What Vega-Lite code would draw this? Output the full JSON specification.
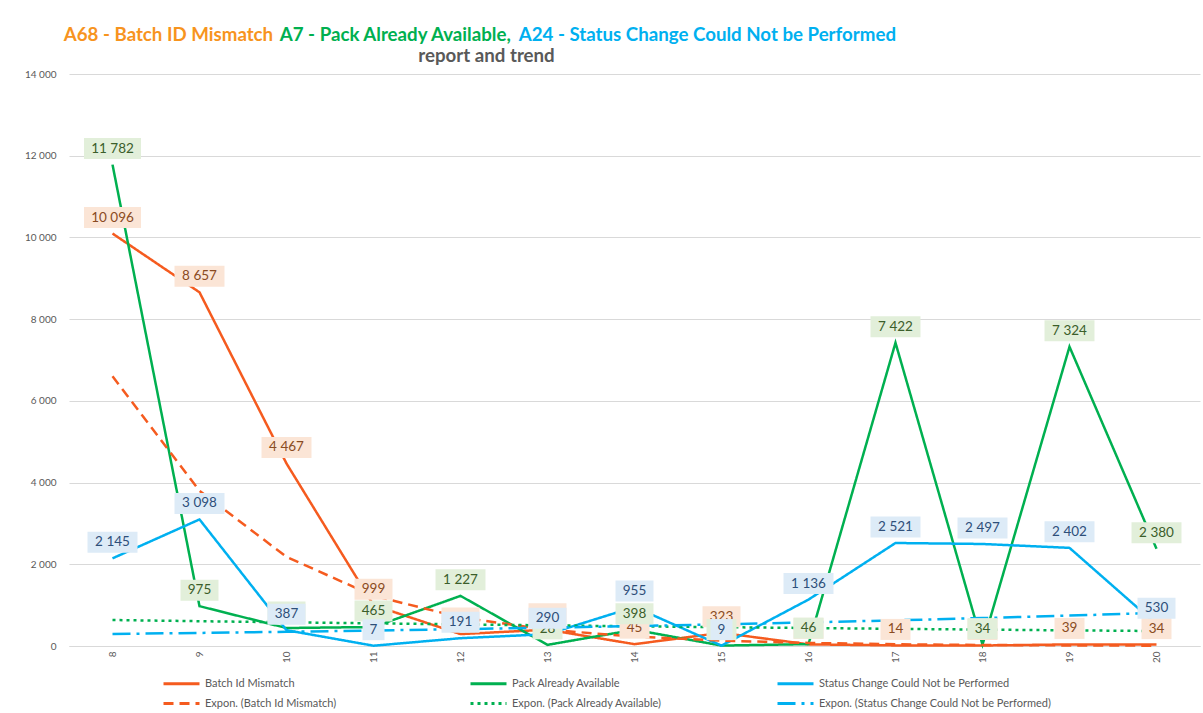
{
  "$schema": "https://vega.github.io/schema/vega-lite/v6.json",
  "padding": {"left": 24, "top": 26, "right": 5, "bottom": 0},
  "background": "white",
  "config": {
    "locale": {"number": {"decimal": ",", "thousands": " ", "grouping": [3], "currency": ["", ""]}},
    "font": "Lato",
    "view": {"stroke": null},
    "title": {"fontSize": 18.7, "fontWeight": "bold", "font": "Lato"},
    "legend": {
      "orient": "none", "legendX": 93, "legendY": 625, "direction": "horizontal", "columns": 3,
      "symbolType": "M-1,0H2.6", "symbolSize": 400, "symbolStrokeWidth": 3,
      "labelFontSize": 11, "labelColor": "#595959", "labelFont": "Lato",
      "columnPadding": 27, "rowPadding": 2, "gridAlign": "all", "labelLimit": 400, "labelOffset": 20
    }
  },
  "datasets": {
    "pts": [
      {"week": 8, "series": "Batch Id Mismatch", "value": 10096},
      {"week": 9, "series": "Batch Id Mismatch", "value": 8657},
      {"week": 10, "series": "Batch Id Mismatch", "value": 4467},
      {"week": 11, "series": "Batch Id Mismatch", "value": 999},
      {"week": 12, "series": "Batch Id Mismatch", "value": 291},
      {"week": 13, "series": "Batch Id Mismatch", "value": 400},
      {"week": 14, "series": "Batch Id Mismatch", "value": 45},
      {"week": 15, "series": "Batch Id Mismatch", "value": 323},
      {"week": 16, "series": "Batch Id Mismatch", "value": 40},
      {"week": 17, "series": "Batch Id Mismatch", "value": 14},
      {"week": 18, "series": "Batch Id Mismatch", "value": 12},
      {"week": 19, "series": "Batch Id Mismatch", "value": 39},
      {"week": 20, "series": "Batch Id Mismatch", "value": 34},
      {"week": 8, "series": "Pack Already Available", "value": 11782},
      {"week": 9, "series": "Pack Already Available", "value": 975},
      {"week": 10, "series": "Pack Already Available", "value": 440},
      {"week": 11, "series": "Pack Already Available", "value": 465},
      {"week": 12, "series": "Pack Already Available", "value": 1227},
      {"week": 13, "series": "Pack Already Available", "value": 28},
      {"week": 14, "series": "Pack Already Available", "value": 398},
      {"week": 15, "series": "Pack Already Available", "value": 10},
      {"week": 16, "series": "Pack Already Available", "value": 46},
      {"week": 17, "series": "Pack Already Available", "value": 7422},
      {"week": 18, "series": "Pack Already Available", "value": 34},
      {"week": 19, "series": "Pack Already Available", "value": 7324},
      {"week": 20, "series": "Pack Already Available", "value": 2380},
      {"week": 8, "series": "Status Change Could Not be Performed", "value": 2145},
      {"week": 9, "series": "Status Change Could Not be Performed", "value": 3098},
      {"week": 10, "series": "Status Change Could Not be Performed", "value": 387},
      {"week": 11, "series": "Status Change Could Not be Performed", "value": 7},
      {"week": 12, "series": "Status Change Could Not be Performed", "value": 191},
      {"week": 13, "series": "Status Change Could Not be Performed", "value": 290},
      {"week": 14, "series": "Status Change Could Not be Performed", "value": 955},
      {"week": 15, "series": "Status Change Could Not be Performed", "value": 9},
      {"week": 16, "series": "Status Change Could Not be Performed", "value": 1136},
      {"week": 17, "series": "Status Change Could Not be Performed", "value": 2521},
      {"week": 18, "series": "Status Change Could Not be Performed", "value": 2497},
      {"week": 19, "series": "Status Change Could Not be Performed", "value": 2402},
      {"week": 20, "series": "Status Change Could Not be Performed", "value": 530},
      {"week": 8, "series": "Expon. (Batch Id Mismatch)", "value": 6600},
      {"week": 9, "series": "Expon. (Batch Id Mismatch)", "value": 3800},
      {"week": 10, "series": "Expon. (Batch Id Mismatch)", "value": 2180},
      {"week": 11, "series": "Expon. (Batch Id Mismatch)", "value": 1230},
      {"week": 12, "series": "Expon. (Batch Id Mismatch)", "value": 700},
      {"week": 13, "series": "Expon. (Batch Id Mismatch)", "value": 400},
      {"week": 14, "series": "Expon. (Batch Id Mismatch)", "value": 230},
      {"week": 15, "series": "Expon. (Batch Id Mismatch)", "value": 130},
      {"week": 16, "series": "Expon. (Batch Id Mismatch)", "value": 75},
      {"week": 17, "series": "Expon. (Batch Id Mismatch)", "value": 43},
      {"week": 18, "series": "Expon. (Batch Id Mismatch)", "value": 25},
      {"week": 19, "series": "Expon. (Batch Id Mismatch)", "value": 14},
      {"week": 20, "series": "Expon. (Batch Id Mismatch)", "value": 8},
      {"week": 8, "series": "Expon. (Pack Already Available)", "value": 636},
      {"week": 9, "series": "Expon. (Pack Already Available)", "value": 607},
      {"week": 10, "series": "Expon. (Pack Already Available)", "value": 580},
      {"week": 11, "series": "Expon. (Pack Already Available)", "value": 554},
      {"week": 12, "series": "Expon. (Pack Already Available)", "value": 529},
      {"week": 13, "series": "Expon. (Pack Already Available)", "value": 505},
      {"week": 14, "series": "Expon. (Pack Already Available)", "value": 482},
      {"week": 15, "series": "Expon. (Pack Already Available)", "value": 461},
      {"week": 16, "series": "Expon. (Pack Already Available)", "value": 440},
      {"week": 17, "series": "Expon. (Pack Already Available)", "value": 420},
      {"week": 18, "series": "Expon. (Pack Already Available)", "value": 401},
      {"week": 19, "series": "Expon. (Pack Already Available)", "value": 383},
      {"week": 20, "series": "Expon. (Pack Already Available)", "value": 366},
      {"week": 8, "series": "Expon. (Status Change Could Not be Performed)", "value": 294},
      {"week": 9, "series": "Expon. (Status Change Could Not be Performed)", "value": 320},
      {"week": 10, "series": "Expon. (Status Change Could Not be Performed)", "value": 348},
      {"week": 11, "series": "Expon. (Status Change Could Not be Performed)", "value": 379},
      {"week": 12, "series": "Expon. (Status Change Could Not be Performed)", "value": 412},
      {"week": 13, "series": "Expon. (Status Change Could Not be Performed)", "value": 448},
      {"week": 14, "series": "Expon. (Status Change Could Not be Performed)", "value": 488},
      {"week": 15, "series": "Expon. (Status Change Could Not be Performed)", "value": 531},
      {"week": 16, "series": "Expon. (Status Change Could Not be Performed)", "value": 578},
      {"week": 17, "series": "Expon. (Status Change Could Not be Performed)", "value": 628},
      {"week": 18, "series": "Expon. (Status Change Could Not be Performed)", "value": 684},
      {"week": 19, "series": "Expon. (Status Change Could Not be Performed)", "value": 744},
      {"week": 20, "series": "Expon. (Status Change Could Not be Performed)", "value": 809}
    ]
  },
  "spacing": -4,
  "vconcat": [
    {
      "spacing": 5,
      "hconcat": [
        {"data": {"values": [{"a": 1}]}, "mark": {"type": "point", "opacity": 0}, "width": 1, "height": 1,
         "title": {"text": "A68 - Batch ID Mismatch", "color": "#F7941E", "anchor": "start", "dx": -3, "offset": 0}},
        {"data": {"values": [{"a": 1}]}, "mark": {"type": "point", "opacity": 0}, "width": 1, "height": 1,
         "title": {"text": "A7 - Pack Already Available,", "color": "#00B050", "anchor": "start", "offset": 0}},
        {"data": {"values": [{"a": 1}]}, "mark": {"type": "point", "opacity": 0}, "width": 1, "height": 1,
         "title": {"text": "A24 - Status Change Could Not be Performed", "color": "#00B0F0", "anchor": "start", "offset": 0}}
      ]
    },
    {
      "width": 1131,
      "height": 572,
      "data": {"name": "pts"},
      "title": {"text": "report and trend", "color": "#595959", "anchor": "middle", "dx": -148, "offset": 3},
      "encoding": {
        "x": {"field": "week", "type": "ordinal", "scale": {"type": "point", "padding": 0.5},
              "axis": {"title": null, "labelAngle": -90, "labelColor": "#595959", "labelFontSize": 10, "domainColor": "#D9D9D9", "ticks": false, "grid": false, "labelPadding": 5}},
        "y": {"field": "value", "type": "quantitative", "scale": {"domain": [0, 14000], "nice": false},
              "axis": {"title": null, "values": [0, 2000, 4000, 6000, 8000, 10000, 12000, 14000], "format": ",d", "domain": false, "ticks": false, "gridColor": "#D9D9D9", "labelColor": "#595959", "labelFontSize": 10, "labelPadding": 13}}
      },
      "layer": [
        {
          "mark": {"type": "line", "strokeWidth": 2.5},
          "encoding": {
            "color": {"field": "series", "type": "nominal",
              "scale": {"domain": ["Batch Id Mismatch", "Pack Already Available", "Status Change Could Not be Performed", "Expon. (Batch Id Mismatch)", "Expon. (Pack Already Available)", "Expon. (Status Change Could Not be Performed)"],
                        "range": ["#F55B1F", "#00B050", "#00B0F0", "#F55B1F", "#00B050", "#00B0F0"]},
              "legend": {"title": null}},
            "strokeDash": {"field": "series", "type": "nominal",
              "scale": {"domain": ["Batch Id Mismatch", "Pack Already Available", "Status Change Could Not be Performed", "Expon. (Batch Id Mismatch)", "Expon. (Pack Already Available)", "Expon. (Status Change Could Not be Performed)"],
                        "range": [[1, 0], [1, 0], [1, 0], [10, 6], [3, 4], [18, 6, 3, 6]]},
              "legend": {"title": null}}
          }
        },
        {"transform": [{"filter": "datum.series === 'Batch Id Mismatch' && datum.value >= 10 && datum.value < 100"}],
         "mark": {"type": "point", "shape": "M-0.5,-0.35H0.5V0.35H-0.5Z", "size": 3600, "filled": true, "opacity": 1, "color": "#FBE5D6", "strokeWidth": 0, "yOffset": -16}},
        {"transform": [{"filter": "datum.series === 'Batch Id Mismatch' && datum.value >= 100 && datum.value < 1000"}],
         "mark": {"type": "point", "shape": "M-0.633,-0.35H0.633V0.35H-0.633Z", "size": 3600, "filled": true, "opacity": 1, "color": "#FBE5D6", "strokeWidth": 0, "yOffset": -16}},
        {"transform": [{"filter": "datum.series === 'Batch Id Mismatch' && datum.value >= 1000 && datum.value < 10000"}],
         "mark": {"type": "point", "shape": "M-0.833,-0.35H0.833V0.35H-0.833Z", "size": 3600, "filled": true, "opacity": 1, "color": "#FBE5D6", "strokeWidth": 0, "yOffset": -16}},
        {"transform": [{"filter": "datum.series === 'Batch Id Mismatch' && datum.value >= 10000"}],
         "mark": {"type": "point", "shape": "M-0.95,-0.35H0.95V0.35H-0.95Z", "size": 3600, "filled": true, "opacity": 1, "color": "#FBE5D6", "strokeWidth": 0, "yOffset": -16}},
        {"transform": [{"filter": "datum.series === 'Batch Id Mismatch'"}],
         "mark": {"type": "text", "fontSize": 13.5, "color": "#8A4B22", "dy": -16, "baseline": "middle"},
         "encoding": {"text": {"field": "value", "type": "quantitative", "format": ",d"}}},

        {"transform": [{"filter": "datum.series === 'Pack Already Available' && datum.value >= 10 && datum.value < 100"}],
         "mark": {"type": "point", "shape": "M-0.5,-0.35H0.5V0.35H-0.5Z", "size": 3600, "filled": true, "opacity": 1, "color": "#E2EFDA", "strokeWidth": 0, "yOffset": -16}},
        {"transform": [{"filter": "datum.series === 'Pack Already Available' && datum.value >= 100 && datum.value < 1000"}],
         "mark": {"type": "point", "shape": "M-0.633,-0.35H0.633V0.35H-0.633Z", "size": 3600, "filled": true, "opacity": 1, "color": "#E2EFDA", "strokeWidth": 0, "yOffset": -16}},
        {"transform": [{"filter": "datum.series === 'Pack Already Available' && datum.value >= 1000 && datum.value < 10000"}],
         "mark": {"type": "point", "shape": "M-0.833,-0.35H0.833V0.35H-0.833Z", "size": 3600, "filled": true, "opacity": 1, "color": "#E2EFDA", "strokeWidth": 0, "yOffset": -16}},
        {"transform": [{"filter": "datum.series === 'Pack Already Available' && datum.value >= 10000"}],
         "mark": {"type": "point", "shape": "M-0.95,-0.35H0.95V0.35H-0.95Z", "size": 3600, "filled": true, "opacity": 1, "color": "#E2EFDA", "strokeWidth": 0, "yOffset": -16}},
        {"transform": [{"filter": "datum.series === 'Pack Already Available'"}],
         "mark": {"type": "text", "fontSize": 13.5, "color": "#3B5E2B", "dy": -16, "baseline": "middle"},
         "encoding": {"text": {"field": "value", "type": "quantitative", "format": ",d"}}},

        {"transform": [{"filter": "datum.series === 'Status Change Could Not be Performed' && datum.value < 10"}],
         "mark": {"type": "point", "shape": "M-0.367,-0.35H0.367V0.35H-0.367Z", "size": 3600, "filled": true, "opacity": 1, "color": "#DDEBF7", "strokeWidth": 0, "yOffset": -16}},
        {"transform": [{"filter": "datum.series === 'Status Change Could Not be Performed' && datum.value >= 100 && datum.value < 1000"}],
         "mark": {"type": "point", "shape": "M-0.633,-0.35H0.633V0.35H-0.633Z", "size": 3600, "filled": true, "opacity": 1, "color": "#DDEBF7", "strokeWidth": 0, "yOffset": -16}},
        {"transform": [{"filter": "datum.series === 'Status Change Could Not be Performed' && datum.value >= 1000"}],
         "mark": {"type": "point", "shape": "M-0.833,-0.35H0.833V0.35H-0.833Z", "size": 3600, "filled": true, "opacity": 1, "color": "#DDEBF7", "strokeWidth": 0, "yOffset": -16}},
        {"transform": [{"filter": "datum.series === 'Status Change Could Not be Performed'"}],
         "mark": {"type": "text", "fontSize": 13.5, "color": "#2E4F7A", "dy": -16, "baseline": "middle"},
         "encoding": {"text": {"field": "value", "type": "quantitative", "format": ",d"}}}
      ]
    }
  ]
}
